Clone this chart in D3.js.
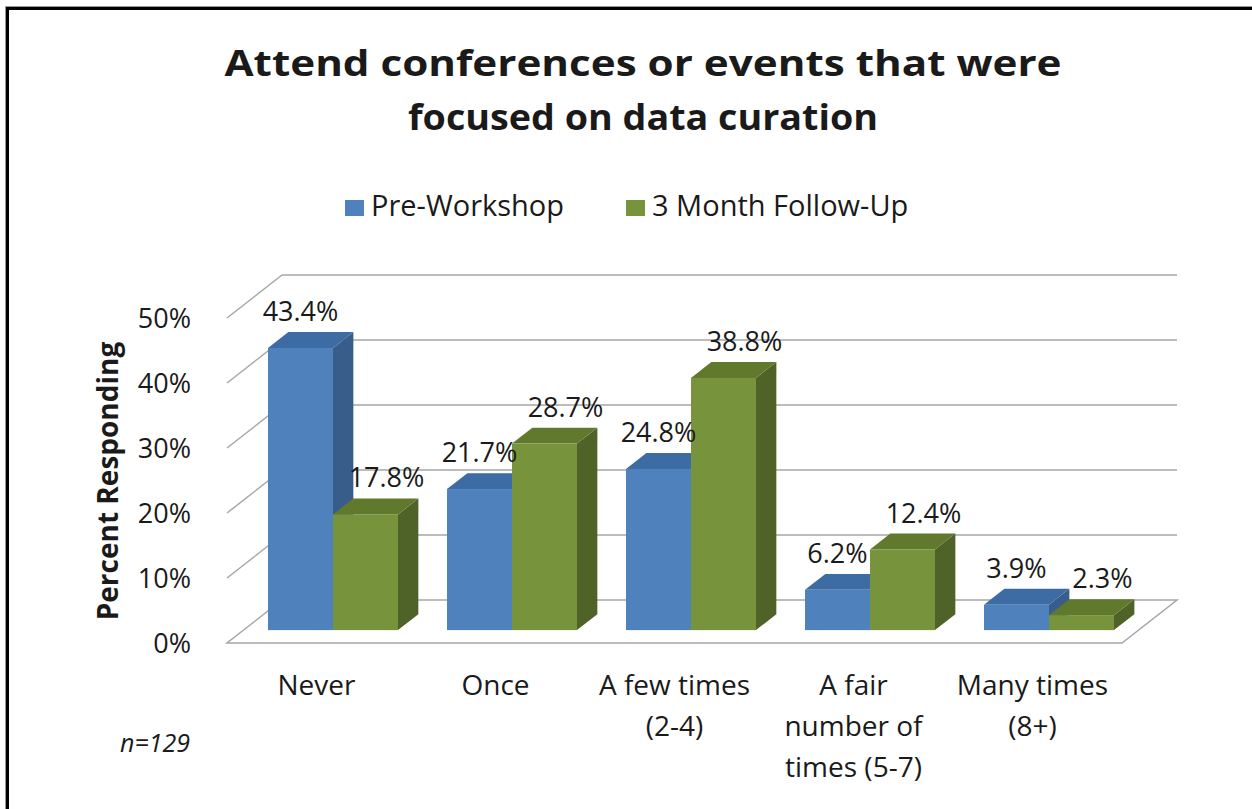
<!DOCTYPE html>
<html>
<head>
<meta charset="utf-8">
<script src="https://cdn.jsdelivr.net/npm/d3@7"></script>
<style>
  body { margin: 0; background: #fff; }
  text { font-family: "Open Sans", sans-serif; fill: #1a1a1a; }
</style>
</head>
<body>
<div id="chart-area"></div>
<script>
// data
var categories = ["Never", "Once", "A few times (2-4)", "A fair number of times (5-7)", "Many times (8+)"];
var categoryLines = [["Never"], ["Once"], ["A few times", "(2-4)"], ["A fair", "number of", "times (5-7)"], ["Many times", "(8+)"]];
var seriesNames = ["Pre-Workshop", "3 Month Follow-Up"];
var preWorkshop = [43.4, 21.7, 24.8, 6.2, 3.9];
var followUp = [17.8, 28.7, 38.8, 12.4, 2.3];
var yTicks = [0, 10, 20, 30, 40, 50];
var titleLines = ["Attend conferences or events that were", "focused on data curation"];
var yTitle = "Percent Responding";
var note = "n=129";

var width = 1252,
    height = 809;

// 3d look: floor depth vector and where the bars sit in it
var depthX = 55, depthY = -43;
var barT0 = 0.30, barT1 = 0.67;

var colors = {
    front: ["#4f81bd", "#77933c"],
    top:   ["#3d6ba3", "#60792c"],
    side:  ["#385d8a", "#4f6228"]
};

var svg = d3.select("#chart-area")
    .append("svg")
        .attr("width", width)
        .attr("height", height);

// frame (only left and top show)
svg.append("path")
    .attr("d", "M5.5,809V6.5H1252")
    .attr("fill", "none")
    .attr("stroke", "#999")
    .attr("stroke-width", 1);
svg.append("path")
    .attr("d", "M7.5,809V8.5H1252")
    .attr("fill", "none")
    .attr("stroke", "#000")
    .attr("stroke-width", 3);

// scales on the front plane of the floor
var x = d3.scaleBand()
    .domain(categories)
    .range([227, 1122]);

var y = d3.scaleLinear()
    .domain([0, 50])
    .range([643, 318]);

// bars live a bit deeper than the front edge
var bx0 = barT0 * depthX, by0 = barT0 * depthY;
var bdx = (barT1 - barT0) * depthX, bdy = (barT1 - barT0) * depthY;

var xBar = d3.scaleBand()
    .domain(categories)
    .range([227 + bx0, 1122 + bx0]);

var xSeries = d3.scaleBand()
    .domain(seriesNames)
    .range([0, xBar.bandwidth()])
    .paddingOuter(0.377);

// floor
var floor = [[227, y(0)], [1122, y(0)], [1122 + depthX, y(0) + depthY], [227 + depthX, y(0) + depthY]];
svg.append("polygon")
    .attr("points", floor.map(function(p) { return p.join(","); }).join(" "))
    .attr("fill", "#fff")
    .attr("stroke", "#a6a6a6")
    .attr("stroke-width", 1.5);

// back wall gridlines + side wall diagonals
var grid = svg.append("g").attr("class", "grid");
grid.selectAll(".back")
    .data(yTicks.filter(function(d) { return d > 0; }))
    .enter().append("line")
        .attr("x1", 227 + depthX)
        .attr("x2", 1122 + depthX)
        .attr("y1", function(d) { return y(d) + depthY; })
        .attr("y2", function(d) { return y(d) + depthY; })
        .attr("stroke", "#a6a6a6")
        .attr("stroke-width", 1.5);
grid.selectAll(".side")
    .data(yTicks.filter(function(d) { return d > 0; }))
    .enter().append("line")
        .attr("x1", 227)
        .attr("x2", 227 + depthX)
        .attr("y1", function(d) { return y(d); })
        .attr("y2", function(d) { return y(d) + depthY; })
        .attr("stroke", "#a6a6a6")
        .attr("stroke-width", 1.5);

// tick labels
svg.append("g").selectAll("text")
    .data(yTicks)
    .enter().append("text")
        .attr("x", 191)
        .attr("y", function(d) { return y(d); })
        .attr("dy", ".36em")
        .attr("text-anchor", "end")
        .style("font-size", "27px")
        .text(function(d) { return d + "%"; });

// bars, left to right so side faces tuck behind the next front face
var barData = [];
categories.forEach(function(c, i) {
    barData.push({ cat: c, s: 0, value: preWorkshop[i] });
    barData.push({ cat: c, s: 1, value: followUp[i] });
});

function pts(a) { return a.map(function(p) { return p.join(","); }).join(" "); }

var bars = svg.selectAll(".bar")
    .data(barData)
    .enter().append("g")
        .attr("class", "bar");

bars.each(function(d) {
    var g = d3.select(this);
    var xl = xBar(d.cat) + xSeries(seriesNames[d.s]);
    var xr = xl + xSeries.bandwidth();
    var yb = y(0) + by0;
    var yt = y(d.value) + by0;
    g.append("polygon")
        .attr("points", pts([[xr, yb], [xr + bdx, yb + bdy], [xr + bdx, yt + bdy], [xr, yt]]))
        .attr("fill", colors.side[d.s]);
    g.append("polygon")
        .attr("points", pts([[xl, yt], [xr, yt], [xr + bdx, yt + bdy], [xl + bdx, yt + bdy]]))
        .attr("fill", colors.top[d.s]);
    g.append("rect")
        .attr("x", xl)
        .attr("y", yt)
        .attr("width", xr - xl)
        .attr("height", yb - yt)
        .attr("fill", colors.front[d.s]);
});

// value labels
svg.append("g").selectAll("text")
    .data(barData)
    .enter().append("text")
        .attr("x", function(d) {
            return xBar(d.cat) + xSeries(seriesNames[d.s]) + xSeries.bandwidth() / 2 + (d.s === 1 ? 21 : 0);
        })
        .attr("y", function(d) { return y(d.value) + by0 + bdy - 11; })
        .attr("text-anchor", "middle")
        .style("font-size", "27px")
        .text(function(d) { return d.value.toFixed(1) + "%"; });

// category labels
var catG = svg.append("g").selectAll("text")
    .data(categories)
    .enter().append("text")
        .attr("x", function(d) { return x(d) + x.bandwidth() / 2; })
        .attr("y", 695)
        .attr("text-anchor", "middle")
        .style("font-size", "28px");
catG.selectAll("tspan")
    .data(function(d, i) { return categoryLines[i]; })
    .enter().append("tspan")
        .attr("x", function() { return d3.select(this.parentNode).attr("x"); })
        .attr("dy", function(d, i) { return i === 0 ? 0 : 41; })
        .text(function(d) { return d; });

// title (the original is drawn a little wide, so stretch to its span)
var titleSpan = [837, 470];
svg.append("g").selectAll("text")
    .data(titleLines)
    .enter().append("text")
        .attr("x", 643)
        .attr("y", function(d, i) { return 76 + i * 54; })
        .attr("text-anchor", "middle")
        .attr("textLength", function(d, i) { return titleSpan[i]; })
        .attr("lengthAdjust", "spacingAndGlyphs")
        .style("font-size", "36px")
        .style("font-weight", "bold")
        .text(function(d) { return d; });

// legend
var legendX = [345, 626];
var legend = svg.append("g").selectAll("g")
    .data(seriesNames)
    .enter().append("g")
        .attr("transform", function(d, i) { return "translate(" + legendX[i] + ",200)"; });
legend.append("rect")
    .attr("width", 19)
    .attr("height", 16)
    .attr("fill", function(d, i) { return colors.front[i]; });
legend.append("text")
    .attr("x", 26)
    .attr("y", 16)
    .style("font-size", "29px")
    .text(function(d) { return d; });

// y axis title
svg.append("text")
    .attr("transform", "translate(118,481) rotate(-90)")
    .attr("text-anchor", "middle")
    .style("font-size", "28px")
    .style("font-weight", "bold")
    .text(yTitle);

svg.append("text")
    .attr("x", 120)
    .attr("y", 752)
    .style("font-size", "25px")
    .style("font-style", "italic")
    .text(note);
</script>
</body>
</html>
